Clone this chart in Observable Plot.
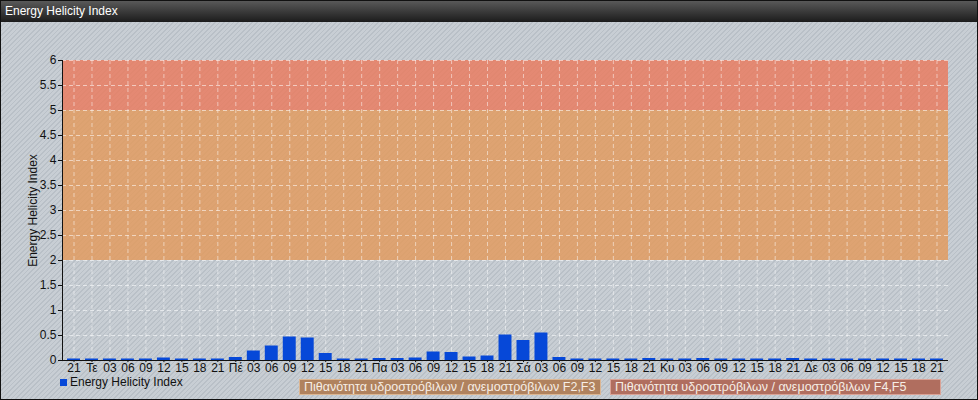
<!DOCTYPE html>
<html>
<head>
<meta charset="utf-8">
<script src="https://cdn.jsdelivr.net/npm/d3@7"></script>
<script src="https://cdn.jsdelivr.net/npm/@observablehq/plot@0.6"></script>
<style>
  html, body { margin: 0; padding: 0; }
  body { font-family: "Liberation Sans", Arial, sans-serif; }
  #wrap {
    position: relative; width: 978px; height: 400px; overflow: hidden;
    background-color: #c8ced4;
    background-image: repeating-linear-gradient(135deg, #c8ced4 0px, #c8ced4 2.3px, #b9c0c7 2.3px, #b9c0c7 3.3px);
  }
  #title {
    position: absolute; left: 0; top: 0; width: 978px; height: 22px;
    background: linear-gradient(#5c5c5c, #1c1c1c);
    color: #fff; font-size: 12px; line-height: 22px; padding-left: 5px; box-sizing: border-box;
  }
  #chart { position: absolute; left: 0; top: 22px; }
  #legend { position: absolute; left: 0; top: 377px; width: 978px; height: 23px; font-size: 12px; }
  .sw { position: absolute; left: 60px; top: 2px; width: 7px; height: 7px; background: #0648d8; }
  .lt { position: absolute; left: 70px; top: -2px; color: #111; line-height: 14px; }
  .box { position: absolute; top: 2px; height: 16px; box-sizing: border-box; color: #f6eee6; line-height: 14px; padding-left: 4px; white-space: nowrap; font-size: 12.5px; }
  #frame { position: absolute; left: 0; top: 0; width: 978px; height: 400px; box-sizing: border-box; border: 1px solid #111; pointer-events: none; }
</style>
</head>
<body>
<div id="wrap">
  <div id="title">Energy Helicity Index</div>
  <div id="chart"></div>
  <div id="legend"></div>
  <div id="frame"></div>
</div>
<script>
const labels = ["21",
  "Τε","03","06","09","12","15","18","21",
  "Πέ","03","06","09","12","15","18","21",
  "Πα","03","06","09","12","15","18","21",
  "Σά","03","06","09","12","15","18","21",
  "Κυ","03","06","09","12","15","18","21",
  "Δε","03","06","09","12","15","18","21"];
const values = [0.03,
  0.03,0.03,0.03,0.03,0.05,0.03,0.03,0.03,
  0.06,0.19,0.29,0.47,0.45,0.14,0.03,0.03,
  0.04,0.04,0.05,0.17,0.16,0.07,0.09,0.51,
  0.40,0.55,0.06,0.03,0.03,0.03,0.03,0.04,
  0.03,0.03,0.04,0.03,0.03,0.03,0.03,0.04,
  0.03,0.03,0.03,0.03,0.03,0.03,0.03,0.03];
const yTicks = [0,0.5,1,1.5,2,2.5,3,3.5,4,4.5,5,5.5,6];
const bandLow = [2, 5];
const bandHigh = [5, 6];
const seriesName = "Energy Helicity Index";
const legendBands = ["Πιθανότητα υδροστρόβιλων / ανεμοστρόβιλων F2,F3", "Πιθανότητα υδροστρόβιλων / ανεμοστρόβιλων F4,F5"];

const idx = labels.map((_, i) => i);
const data = values.map((v, i) => ({i, v}));
const bands = [
  {y1: bandLow[0], y2: bandLow[1], fill: "rgb(228,152,89)"},
  {y1: bandHigh[0], y2: bandHigh[1], fill: "rgb(235,120,90)"}
];

const chart = Plot.plot({
  width: 978,
  height: 355,
  marginTop: 38,
  marginBottom: 17,
  marginLeft: 62,
  marginRight: 30,
  style: {background: "transparent", fontFamily: "Liberation Sans, Arial, sans-serif", fontSize: "12px", color: "#111"},
  x: {type: "band", domain: idx, padding: 0.28},
  y: {domain: [0, 6], nice: false},
  marks: [
    Plot.rect(bands, {y1: "y1", y2: "y2", fill: "fill", fillOpacity: 0.8}),
    Plot.gridY(yTicks.slice(1), {stroke: "#fff", strokeOpacity: 0.55, strokeDasharray: "4,3"}),
    Plot.gridX(idx, {stroke: "#fff", strokeOpacity: 0.5, strokeDasharray: "4,3"}),
    Plot.barY(data, {x: "i", y: "v", fill: "#0648d8"}),
    Plot.axisY(yTicks, {tickSize: 4, tickPadding: 2, tickFormat: d => String(d), label: "Energy Helicity Index", labelAnchor: "center", labelOffset: 34, labelArrow: "none", fill: "#111"}),
    Plot.axisX(idx, {tickSize: 2, tickPadding: 1, tickFormat: i => labels[i], label: null, fill: "#111"}),
    Plot.ruleY([0], {stroke: "#111"}),
    Plot.frame({anchor: "left", stroke: "#111"})
  ]
});
document.getElementById("chart").appendChild(chart);

const lg = document.getElementById("legend");
lg.innerHTML = `<div class="sw"></div><div class="lt">${seriesName}</div>` +
  `<div class="box" style="left:299px;width:302px;background:#b0825e;border:1px solid #dcb692">${legendBands[0]}</div>` +
  `<div class="box" style="left:610px;width:331px;background:#b06e5f;border:1px solid #daa296">${legendBands[1]}</div>`;
</script>
</body>
</html>
